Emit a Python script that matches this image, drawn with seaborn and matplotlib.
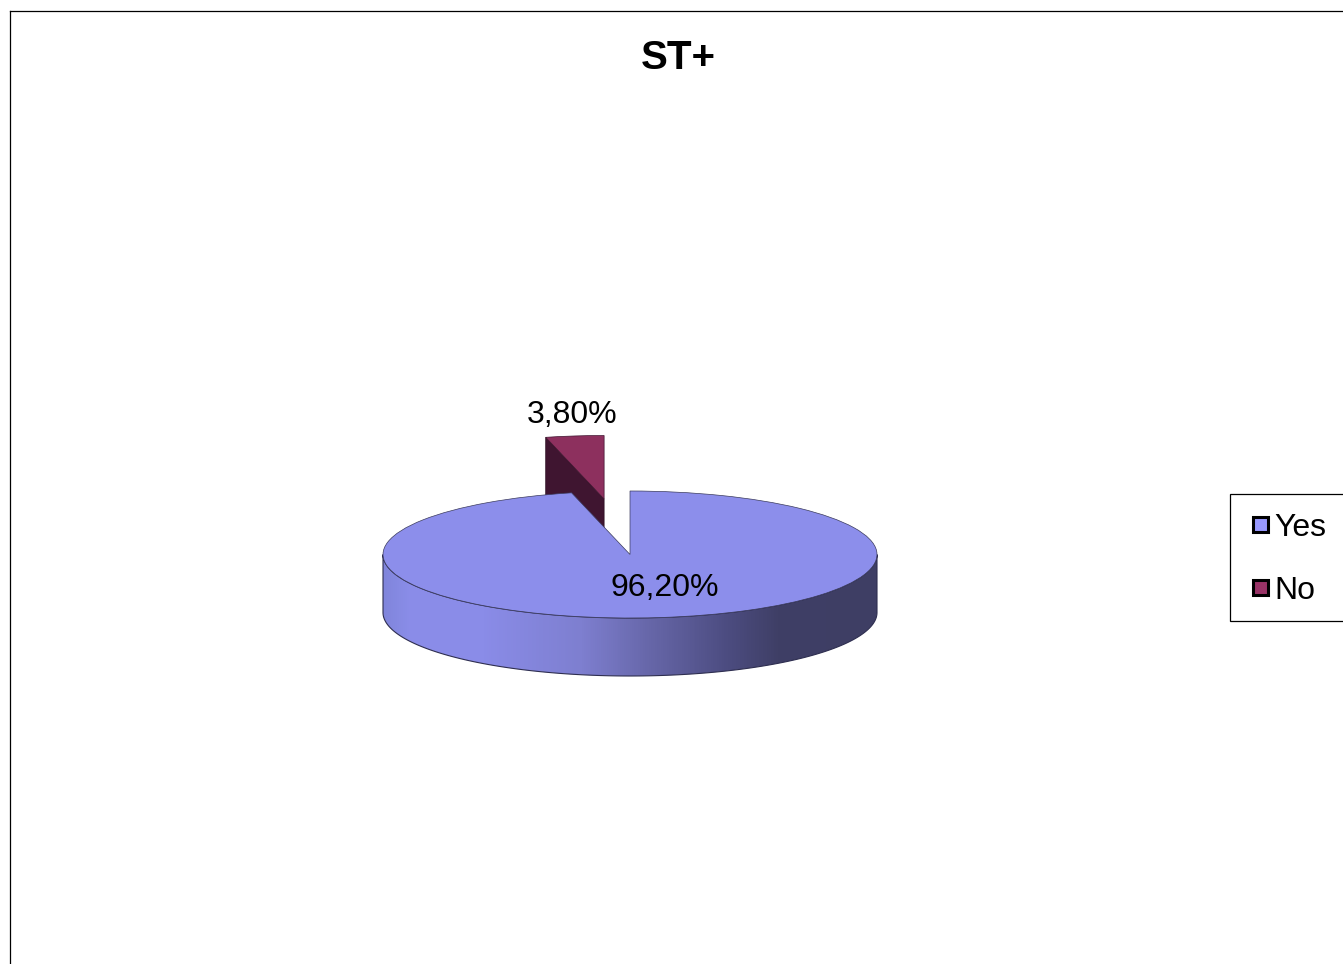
import numpy as np
import matplotlib
matplotlib.use('Agg')
import matplotlib.pyplot as plt
from matplotlib.colors import LinearSegmentedColormap
from matplotlib.legend_handler import HandlerPatch
from matplotlib.patches import Patch, Polygon, Rectangle
import seaborn as sns

categories = ['Yes', 'No']
shares = [96.20, 3.80]
title = 'ST+'

W, H = 1343, 964
# pie geometry on the canvas, in pixels
CX, CY, RX, RY, DEPTH = 630, 554.5, 247, 63.5, 58

sns.set_theme(style='white')
plt.rcParams['font.family'] = ['Liberation Sans', 'DejaVu Sans']

top_colors = sns.color_palette(['#8C8EEB', '#8D305E'])
legend_colors = sns.color_palette(['#9999FF', '#993366'])
dark_side = '#3F1530'
wall_cmap = LinearSegmentedColormap.from_list('wall', [
    (0.0, '#8085DC'), (0.05, '#8A8DE8'), (0.2, '#8A8CE8'), (0.4, '#7E7FD0'),
    (0.55, '#6565A6'), (0.7, '#4C4C80'), (0.8, '#3F3F66'), (1.0, '#3E3E64')])

fig = plt.figure(figsize=(W / 100, H / 100), dpi=100)
ax = fig.add_axes([10 / W, 0, (W - 10) / W, (H - 11) / H])

wedges, _ = ax.pie(shares, explode=[0, 0.88], colors=top_colors, startangle=90,
                   counterclock=False, radius=1,
                   wedgeprops={'edgecolor': '#3A3A5C', 'linewidth': 0.5})
wedges[0].set_zorder(4)
wedges[1].set_zorder(2)
wedges[1].set_edgecolor('#3F1530')

depth = DEPTH / RY

# front wall of the big slice
t = np.linspace(np.pi, 2 * np.pi, 200)
xs, ys = np.cos(t), np.sin(t)
wall = np.vstack([np.column_stack([xs, ys]),
                  np.column_stack([xs, ys - depth])[::-1]])
wall_patch = Polygon(wall, closed=True, facecolor='none', edgecolor='#2E2E50',
                     linewidth=0.8, zorder=3)
ax.add_patch(wall_patch)
grad = ax.imshow(np.linspace(0, 1, 494)[None, :], cmap=wall_cmap, aspect='auto',
                 extent=(-1, 1, -1 - depth, 0), zorder=2.5)
grad.set_clip_path(wall_patch)

# cut face of the exploded slice
tip = np.array(wedges[1].center)
ang = np.deg2rad(90 + 360 * shares[1] / 100)
outer = tip + [np.cos(ang), np.sin(ang)]
side = [outer, tip, tip - [0, depth], outer - [0, depth]]
ax.add_patch(Polygon(side, closed=True, facecolor=dark_side, edgecolor='#2A0E20',
                     linewidth=0.5, zorder=1))

ax.set_aspect('auto')
ax.set_xlim((10 - CX) / RX, (W - CX) / RX)
ax.set_ylim((CY - H) / RY, (CY - 11) / RY)
ax.set_frame_on(True)
for name, spine in ax.spines.items():
    spine.set_visible(name in ('top', 'left'))
    spine.set_color('black')
    spine.set_linewidth(0.9)


def px(x, y):
    return (x - CX) / RX, (CY - y) / RY


labels = [f'{v:.2f}%'.replace('.', ',') for v in shares]
ax.text(*px(665, 588), labels[0], fontsize=23, color='black', ha='center', va='center', zorder=5)
ax.text(*px(572, 415), labels[1], fontsize=23, color='black', ha='center', va='center', zorder=5)
ax.text(*px(678, 58), title, fontsize=29, fontweight='bold', color='black',
        ha='center', va='center', zorder=5)


def square_handle(legend, orig_handle, xdescent, ydescent, width, height, fontsize):
    side_len = 10.8
    return Rectangle((width - side_len - xdescent, (height - side_len) / 2 - ydescent),
                     side_len, side_len)


# legend box runs off the right edge, so it is drawn apart from the entries
fig.add_artist(Rectangle((1230 / W, 1 - 621 / H), 130 / W, 127 / H, transform=fig.transFigure,
                         facecolor='white', edgecolor='black', linewidth=0.9))
handles = [Patch(facecolor=c, edgecolor='black', linewidth=2.2) for c in legend_colors]
leg = fig.legend(handles, categories, loc='upper left', bbox_to_anchor=(1230 / W, 1 - 496 / H),
                 bbox_transform=fig.transFigure, fontsize=23, frameon=False,
                 borderaxespad=0, borderpad=0.53, handlelength=0.65,
                 handleheight=0.7, handletextpad=0.2, labelspacing=1.03,
                 labelcolor='black', handler_map={Patch: HandlerPatch(patch_func=square_handle)})

fig.savefig('out.png', dpi=100)
